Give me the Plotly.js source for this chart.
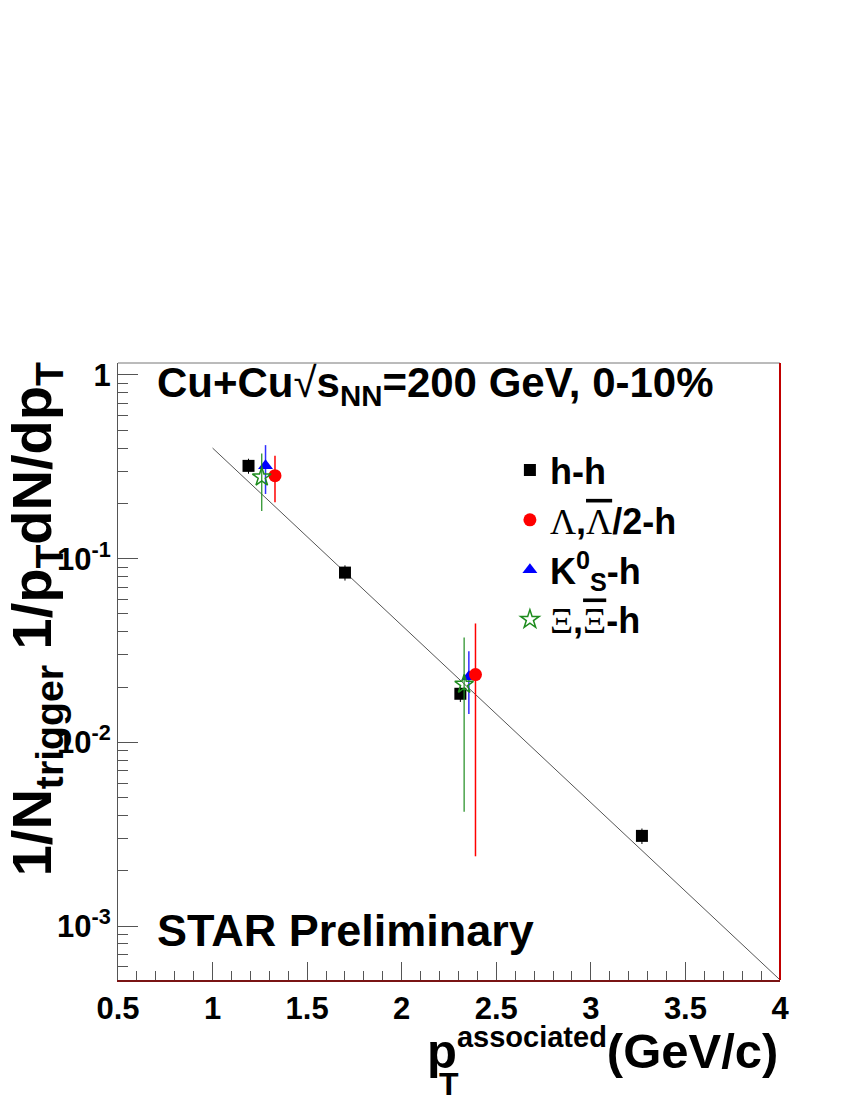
<!DOCTYPE html>
<html>
<head>
<meta charset="utf-8">
<script src="https://cdn.plot.ly/plotly-3.0.1.min.js"></script>
<style>body{margin:0;background:#fff}</style>
</head>
<body>
<div id="chart" style="width:850px;height:1100px;"></div>
<script>
// h-h
var hhX = [1.19, 1.70, 2.31, 3.27];
var hhY = [0.32, 0.084, 0.0184, 0.0031];
var hhErr = [0.03, 0.008, 0.0018, 0.0003];

// Lambda, anti-Lambda / 2
var lamX = [1.33, 2.39];
var lamY = [0.283, 0.0234];
var lamErr = [0.08, 0.021];

// K0s
var k0X = [1.28, 2.355];
var k0Y = [0.32, 0.0228];
var k0Err = [0.095, 0.0085];

// Xi, anti-Xi
var xiX = [1.26, 2.33];
var xiY = [0.278, 0.0207];
var xiErr = [0.096, 0.0165];

// exponential fit, end points
var fitX = [1.0, 4.0];
var fitY = [0.40, 0.00051];

var FONT = 'Liberation Sans, Arial, sans-serif';
var SERIF = 'Liberation Serif, Times New Roman, serif';

// minor ticks for the log axis
var minorY = [];
for (var k = -4; k <= 0; k++) {
  for (var m = 2; m <= 9; m++) minorY.push(m * Math.pow(10, k));
}

var fit = {
  x: fitX, y: fitY, mode: 'lines', type: 'scatter',
  line: {color: '#555', width: 1},
  showlegend: false, hoverinfo: 'skip'
};

var hh = {
  x: hhX, y: hhY, mode: 'markers', type: 'scatter', name: 'h-h', legendrank: 1,
  marker: {symbol: 'square', size: 12, color: 'black'},
  error_y: {type: 'data', array: hhErr, color: 'black', thickness: 1, width: 0}
};

var k0 = {
  x: k0X, y: k0Y, mode: 'markers', type: 'scatter', legendrank: 3,
  name: 'K<sup>0</sup><sub>S</sub>-h',
  marker: {symbol: 'triangle-up', size: 13, color: '#0000ff'},
  error_y: {type: 'data', array: k0Err, color: '#3030ff', thickness: 1.5, width: 0}
};

var lam = {
  x: lamX, y: lamY, mode: 'markers', type: 'scatter', legendrank: 2,
  name: '<span style="font-family:' + SERIF + ';font-weight:normal">Λ</span>,' +
        '<span style="font-family:' + SERIF + ';font-weight:normal;text-decoration:overline">Λ</span>/2-h',
  marker: {symbol: 'circle', size: 13, color: '#ff0000'},
  error_y: {type: 'data', array: lamErr, color: '#ff0000', thickness: 1.5, width: 0}
};

var xi = {
  x: xiX, y: xiY, mode: 'markers', type: 'scatter', legendrank: 4,
  name: '<span style="font-family:' + SERIF + ';font-weight:normal">Ξ</span>,' +
        '<span style="font-family:' + SERIF + ';font-weight:normal;text-decoration:overline">Ξ</span>-h',
  marker: {symbol: 'star-open', size: 14, color: '#1e8c1e', line: {color: '#1e8c1e', width: 1.5}},
  error_y: {type: 'data', array: xiErr, color: '#1e8c1e', thickness: 1.2, width: 0}
};

var data = [fit, hh, k0, lam, xi];

var layout = {
  width: 850, height: 1100,
  margin: {l: 118, r: 70, t: 363, b: 120},
  paper_bgcolor: 'white', plot_bgcolor: 'white',
  font: {family: FONT, color: 'black'},
  showlegend: true,
  legend: {
    x: 0.592, y: 0.875, xanchor: 'left', yanchor: 'top',
    bgcolor: 'rgba(0,0,0,0)', borderwidth: 0,
    font: {family: FONT, size: 36, weight: 'bold', color: 'black'},
    itemwidth: 30, tracegroupgap: 0
  },
  xaxis: {
    range: [0.5, 4], tick0: 0.5, dtick: 0.5,
    ticks: 'inside', ticklen: 18, tickwidth: 1, tickcolor: '#555',
    minor: {dtick: 0.1, ticks: 'inside', ticklen: 9, tickcolor: '#555', tickwidth: 1},
    showgrid: false, zeroline: false,
    showline: true, linecolor: '#7a1414', linewidth: 2,
    tickfont: {family: FONT, size: 31, weight: 'bold', color: 'black'}
  },
  yaxis: {
    type: 'log', range: [-3.293, 0.065],
    tickmode: 'array', tickvals: [0.001, 0.01, 0.1, 1],
    ticktext: ['10<sup>-3</sup>', '10<sup>-2</sup>', '10<sup>-1</sup>', '1'],
    ticks: 'inside', ticklen: 20, tickwidth: 1, tickcolor: '#555',
    minor: {tickmode: 'array', tickvals: minorY, ticks: 'inside', ticklen: 10, tickcolor: '#555', tickwidth: 1},
    showgrid: false, zeroline: false,
    showline: true, linecolor: '#555', linewidth: 1,
    tickfont: {family: FONT, size: 31, weight: 'bold', color: 'black'}
  },
  shapes: [
    {type: 'line', xref: 'paper', yref: 'paper', x0: 0, x1: 1, y0: 1, y1: 1, line: {color: '#777', width: 1}},
    {type: 'line', xref: 'paper', yref: 'paper', x0: 1, x1: 1, y0: 0, y1: 1, line: {color: '#c00000', width: 2}}
  ],
  annotations: [
    {xref: 'paper', yref: 'paper', x: 0.056, y: 0.964, xanchor: 'left', yanchor: 'middle', showarrow: false,
     text: 'Cu+Cu<span style="font-weight:normal">√</span>s<sub>NN</sub>=200 GeV, 0-10%',
     font: {family: FONT, size: 42, weight: 'bold'}},
    {xref: 'paper', yref: 'paper', x: 0.056, y: 0.081, xanchor: 'left', yanchor: 'middle', showarrow: false,
     text: 'STAR Preliminary', font: {family: FONT, size: 45, weight: 'bold'}},
    {xref: 'paper', yref: 'paper', x: -0.125, y: 0.585, xanchor: 'center', yanchor: 'middle', showarrow: false,
     textangle: -90,
     text: '1/N<sub>trigger</sub> 1/p<sub>T</sub>dN/dp<sub>T</sub>',
     font: {family: FONT, size: 56, weight: 'bold'}},
    {xref: 'paper', yref: 'paper', x: 1.0, y: -0.113, xanchor: 'right', yanchor: 'middle', showarrow: false,
     text: 'p<sup><span style="font-size:29px">associated</span></sup>(GeV/c)',
     font: {family: FONT, size: 49, weight: 'bold'}},
    {xref: 'paper', yref: 'paper', x: 0.5, y: -0.168, xanchor: 'center', yanchor: 'middle', showarrow: false,
     text: 'T', font: {family: FONT, size: 32, weight: 'bold'}}
  ]
};

Plotly.newPlot('chart', data, layout, {displayModeBar: false, staticPlot: true});
</script>
</body>
</html>
